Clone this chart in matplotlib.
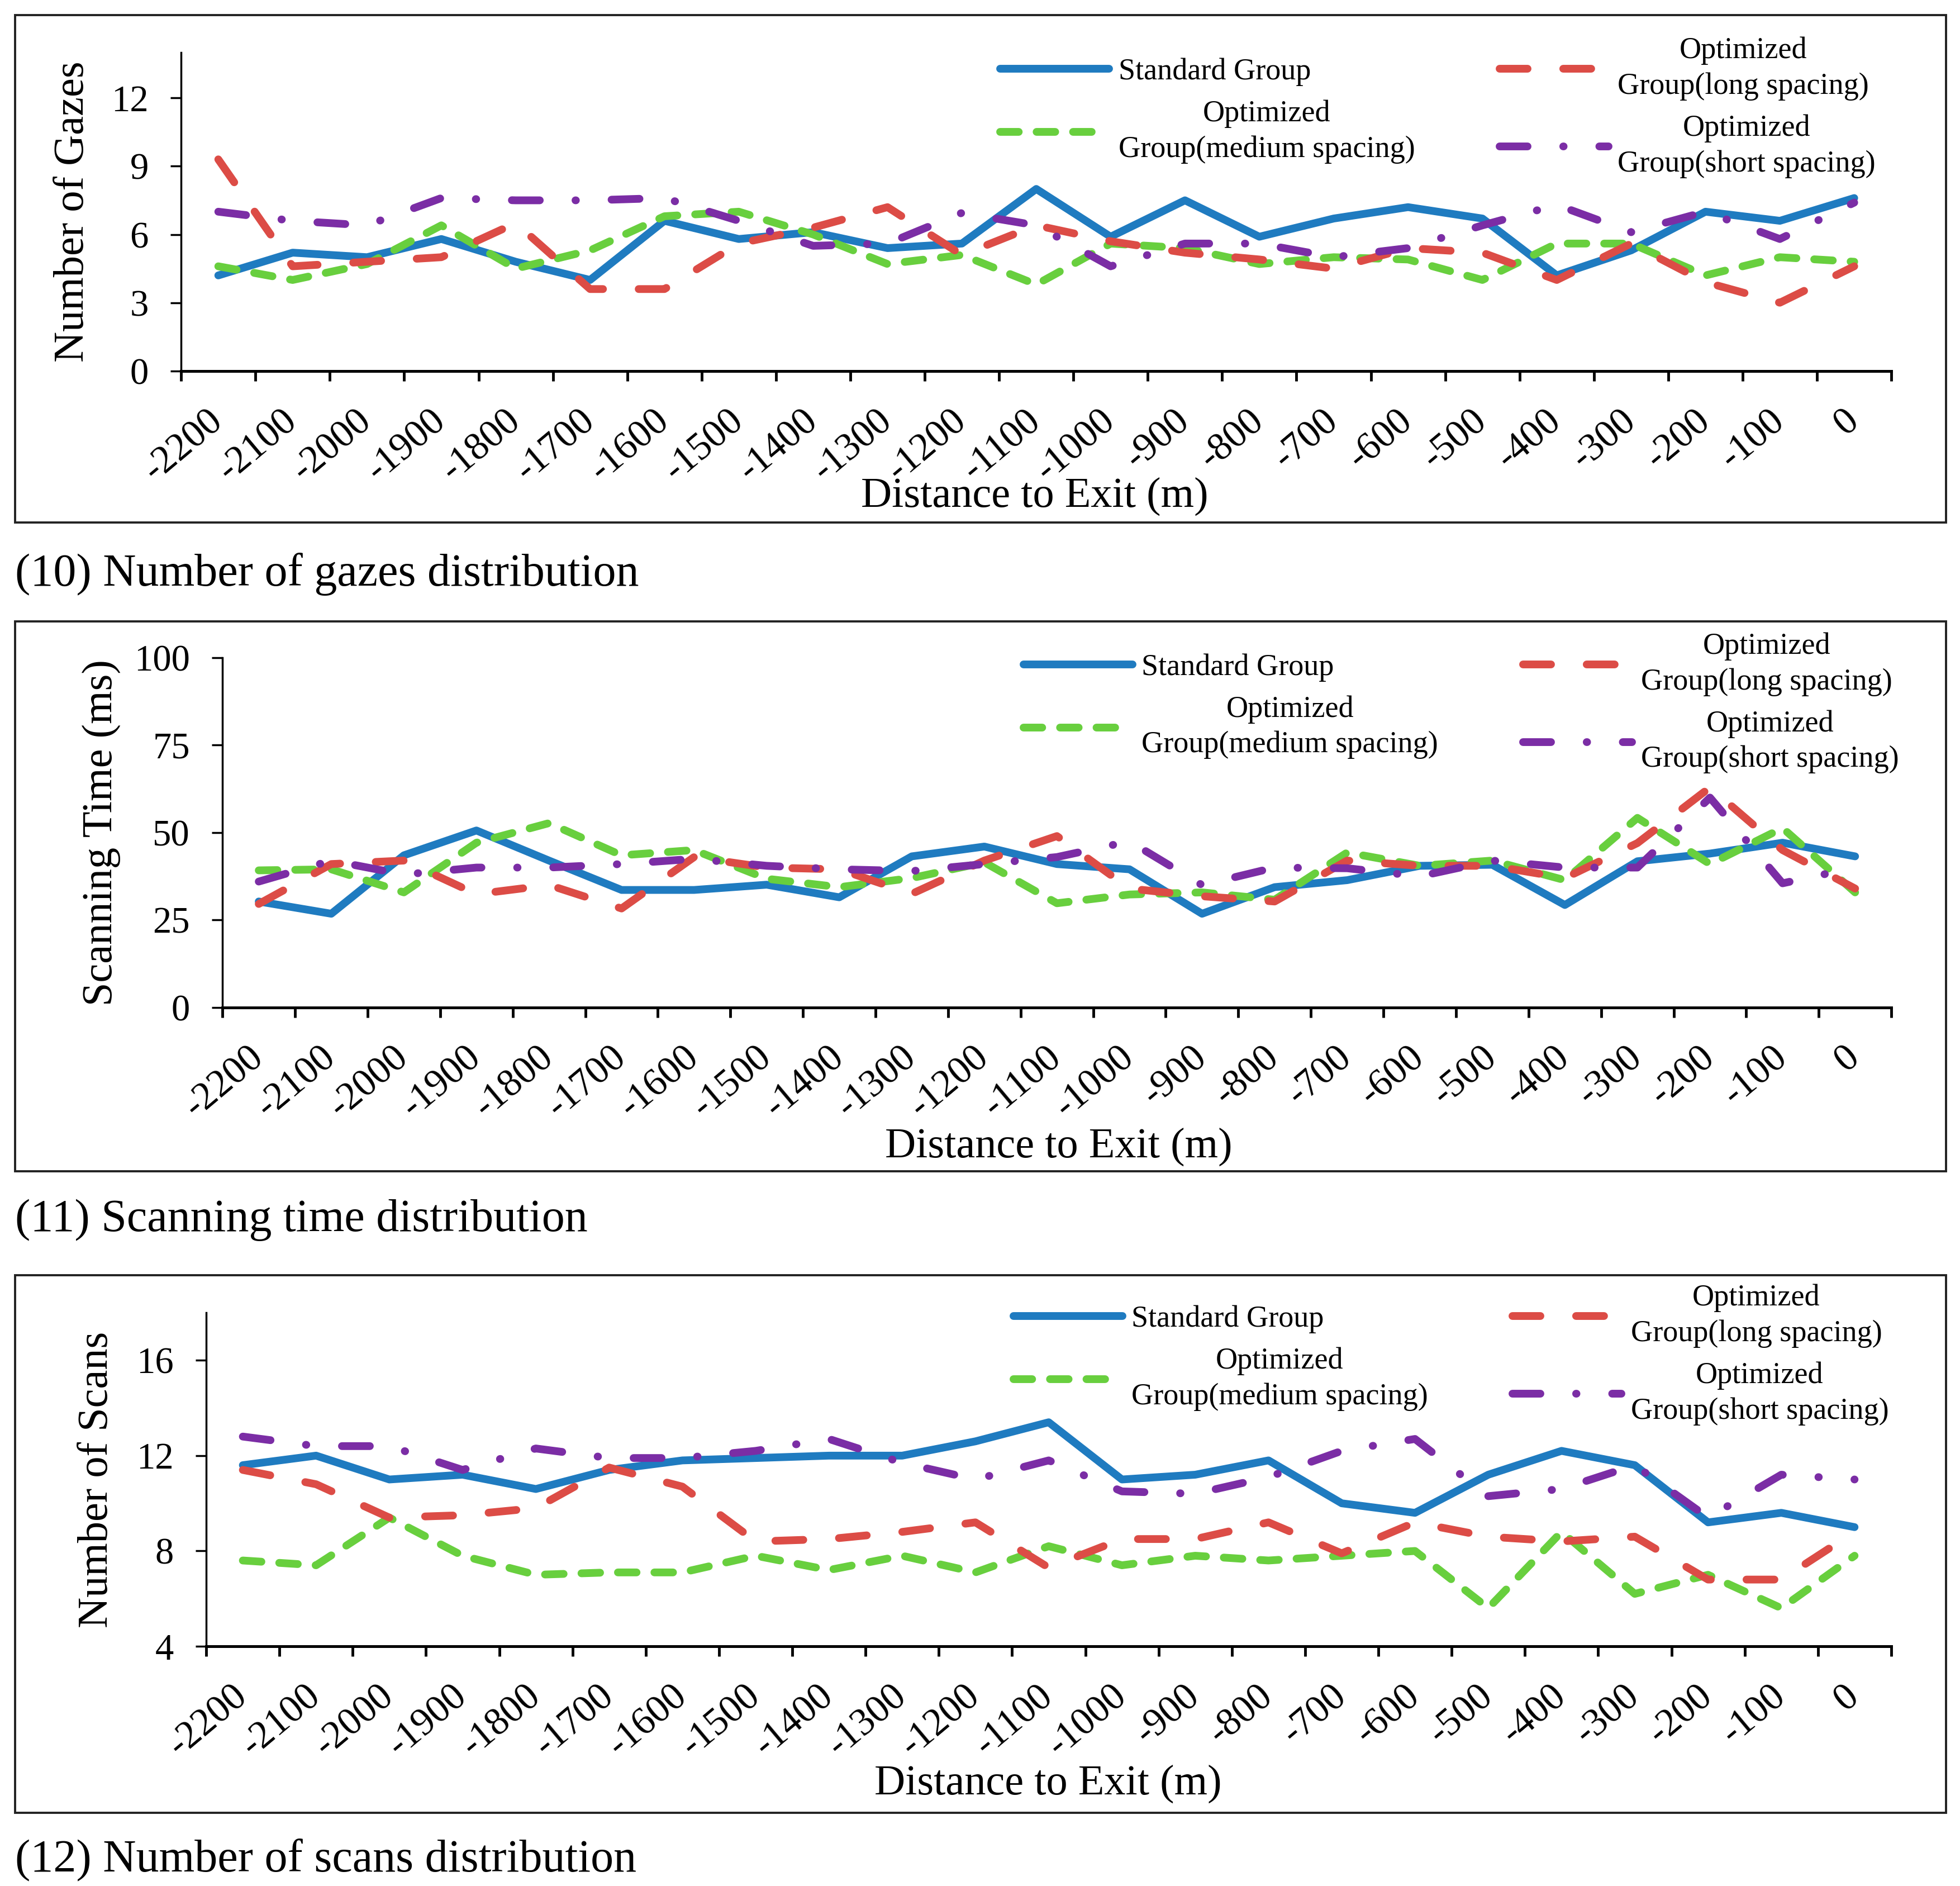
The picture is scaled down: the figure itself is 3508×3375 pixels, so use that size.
import numpy as np
import matplotlib
matplotlib.use("Agg")
import matplotlib.pyplot as plt
from matplotlib.patches import Rectangle

plt.rcParams['font.family'] = ['Liberation Serif', 'DejaVu Serif']

# distance categories (m)
dist = ['-2200', '-2100', '-2000', '-1900', '-1800', '-1700', '-1600', '-1500',
        '-1400', '-1300', '-1200', '-1100', '-1000', '-900', '-800', '-700',
        '-600', '-500', '-400', '-300', '-200', '-100', '0']

names = ['Standard Group', 'Optimized\nGroup(medium spacing)',
         'Optimized\nGroup(long spacing)', 'Optimized\nGroup(short spacing)']

# (10) number of gazes
std_g = [4.2, 5.2, 5.0, 5.8, 4.8, 4.0, 6.6, 5.8, 6.1, 5.4, 5.6, 8.0, 5.9, 7.5, 5.9, 6.7, 7.2, 6.7, 4.2, 5.3, 7.0, 6.6, 7.6]
med_g = [4.6, 4.0, 4.7, 6.4, 4.5, 5.3, 6.8, 7.0, 6.0, 4.7, 5.1, 3.8, 5.6, 5.4, 4.7, 5.0, 4.9, 4.0, 5.6, 5.6, 4.2, 5.0, 4.8]
long_g = [9.3, 4.6, 4.8, 5.0, 6.5, 3.6, 3.6, 5.6, 6.3, 7.2, 5.1, 6.4, 5.7, 5.2, 4.9, 4.5, 5.4, 5.2, 4.0, 5.6, 3.9, 3.0, 4.6]
short_g = [7.0, 6.6, 6.4, 7.6, 7.5, 7.5, 7.6, 6.6, 5.5, 5.6, 6.95, 6.4, 4.6, 5.6, 5.6, 5.0, 5.4, 6.4, 7.3, 6.1, 7.0, 5.8, 7.4]

# (11) scanning time
std_t = [30.3, 26.8, 43.5, 50.6, 42.0, 33.6, 33.6, 35.1, 31.5, 43.2, 46.0, 41.0, 39.5, 26.8, 34.4, 36.4, 40.5, 40.8, 29.3, 41.8, 44.0, 47.1, 43.2]
med_t = [39.2, 39.5, 32.9, 47.1, 52.7, 43.5, 45.0, 36.8, 34.4, 37.0, 41.5, 29.8, 32.3, 32.9, 30.8, 44.3, 40.5, 42.0, 36.4, 54.2, 41.0, 51.3, 32.9]
long_t = [29.6, 41.0, 42.0, 32.4, 35.0, 28.3, 43.0, 40.0, 39.5, 32.5, 42.0, 49.0, 34.0, 31.8, 30.3, 42.0, 40.5, 40.5, 37.0, 47.0, 62.9, 45.0, 34.0]
short_t = [36.0, 42.0, 38.0, 40.0, 40.0, 41.0, 42.5, 40.5, 39.5, 39.0, 41.0, 43.0, 47.5, 35.0, 40.0, 39.8, 37.5, 42.0, 40.0, 40.0, 60.0, 35.5, 40.0]

# (12) number of scans
std_s = [11.6, 12.0, 11.0, 11.2, 10.6, 11.4, 11.8, 11.9, 12.0, 12.0, 12.6, 13.4, 11.0, 11.2, 11.8, 10.0, 9.6, 11.2, 12.2, 11.6, 9.2, 9.6, 9.0]
med_s = [7.6, 7.4, 9.4, 7.8, 7.0, 7.1, 7.1, 7.8, 7.2, 7.8, 7.1, 8.2, 7.4, 7.8, 7.6, 7.8, 8.0, 5.6, 8.8, 6.2, 7.0, 5.6, 7.8]
long_s = [11.4, 10.8, 9.4, 9.5, 9.8, 11.5, 10.7, 8.4, 8.5, 8.8, 9.2, 7.3, 8.5, 8.5, 9.2, 7.9, 9.2, 8.6, 8.4, 8.6, 6.8, 6.8, 8.8]
short_s = [12.8, 12.4, 12.4, 11.4, 12.3, 11.9, 11.9, 12.2, 12.7, 11.7, 11.0, 11.8, 10.5, 10.4, 11.1, 12.2, 12.7, 10.3, 10.6, 11.6, 9.4, 11.2, 11.0]

colors = ['#1F7BC0', '#68CF3E', '#DC4C46', '#7B2DA5']
dashes = [None, (2.4, 2.3), (3.6, 4.6), (3.6, 4.6, 0.05, 4.6)]

fig = plt.figure(figsize=(35.08, 33.75), dpi=100)

# axes rects (figure fraction), panel boxes, captions
panels = [
    dict(rect=[0.0924, 0.8033, 0.8726, 0.1689], ys=[std_g, med_g, long_g, short_g],
         ylim=(0, 14), yt=[0, 3, 6, 9, 12], ylab='Number of Gazes',
         ylc=-0.0634, xlc=(0.499, -0.393), leg=(0.479, 1.05),
         box=(0.723, 0.992), cap='(10) Number of gazes distribution', capy=1 - 1027 / 3375),
    dict(rect=[0.1135, 0.4658, 0.8515, 0.1855], ys=[std_t, med_t, long_t, short_t],
         ylim=(0, 100), yt=[0, 25, 50, 75, 100], ylab='Scanning Time (ms)',
         ylc=-0.0727, xlc=(0.501, -0.398), leg=(0.480, 1.073),
         box=(0.379, 0.6705), cap='(11) Scanning time distribution', capy=1 - 2183 / 3375),
    dict(rect=[0.1052, 0.1271, 0.8597, 0.1769], ys=[std_s, med_s, long_s, short_s],
         ylim=(4, 18), yt=[4, 8, 12, 16], ylab='Number of Scans',
         ylc=-0.0647, xlc=(0.4997, -0.412), leg=(0.479, 1.086),
         box=(0.0388, 0.3239), cap='(12) Number of scans distribution', capy=1 - 3328 / 3375),
]

x = np.arange(len(dist))
for p in panels:
    ax = fig.add_axes(p['rect'])
    for y, c, d, n in zip(p['ys'], colors, dashes, names):
        line, = ax.plot(x, y, color=c, lw=10, label=n)
        if d is not None:
            line.set_dashes(d)
            line.set_dash_capstyle('round')
        else:
            line.set_solid_capstyle('round')
    ax.set_xlim(-0.5, len(dist) - 0.5)
    ax.set_ylim(*p['ylim'])
    ax.set_yticks(p['yt'])
    ax.set_xticks(np.arange(-0.5, len(dist)), labels=[])
    ax.set_xticks(x, minor=True)
    ax.set_xticklabels(dist, minor=True, rotation=40, ha='right', va='center',
                       rotation_mode='anchor', fontsize=50)
    ax.tick_params(axis='x', which='major', length=13, width=3.5, direction='out')
    ax.tick_params(axis='x', which='minor', length=0, pad=59)
    ax.tick_params(axis='y', length=14, width=2.5, pad=28, labelsize=48)
    for s in ['top', 'right']:
        ax.spines[s].set_visible(False)
    ax.spines['bottom'].set_linewidth(3.6)
    ax.spines['left'].set_linewidth(2.5)
    ax.set_ylabel(p['ylab'], fontsize=55)
    ax.yaxis.set_label_coords(p['ylc'], 0.5)
    ax.yaxis.label.set_va('center')
    ax.set_xlabel('Distance to Exit (m)', fontsize=55)
    ax.xaxis.set_label_coords(*p['xlc'])
    ax.xaxis.label.set_va('center')
    leg = ax.legend(ncol=2, loc='upper left', bbox_to_anchor=p['leg'], frameon=False,
                    fontsize=39, handlelength=3.6, handletextpad=0.3,
                    columnspacing=2.8, labelspacing=0.45, borderpad=0, borderaxespad=0)
    for t in leg.get_texts():
        t.set_multialignment('center')
        t.set_linespacing(1.35)
    b0, b1 = p['box']
    fig.add_artist(Rectangle((0.0077, b0), 0.9852, b1 - b0, transform=fig.transFigure,
                             fill=False, edgecolor='#222222', lw=2.8))
    fig.text(0.0077, p['capy'], p['cap'], fontsize=59, va='center', ha='left')

fig.savefig('out.png', dpi=100)
